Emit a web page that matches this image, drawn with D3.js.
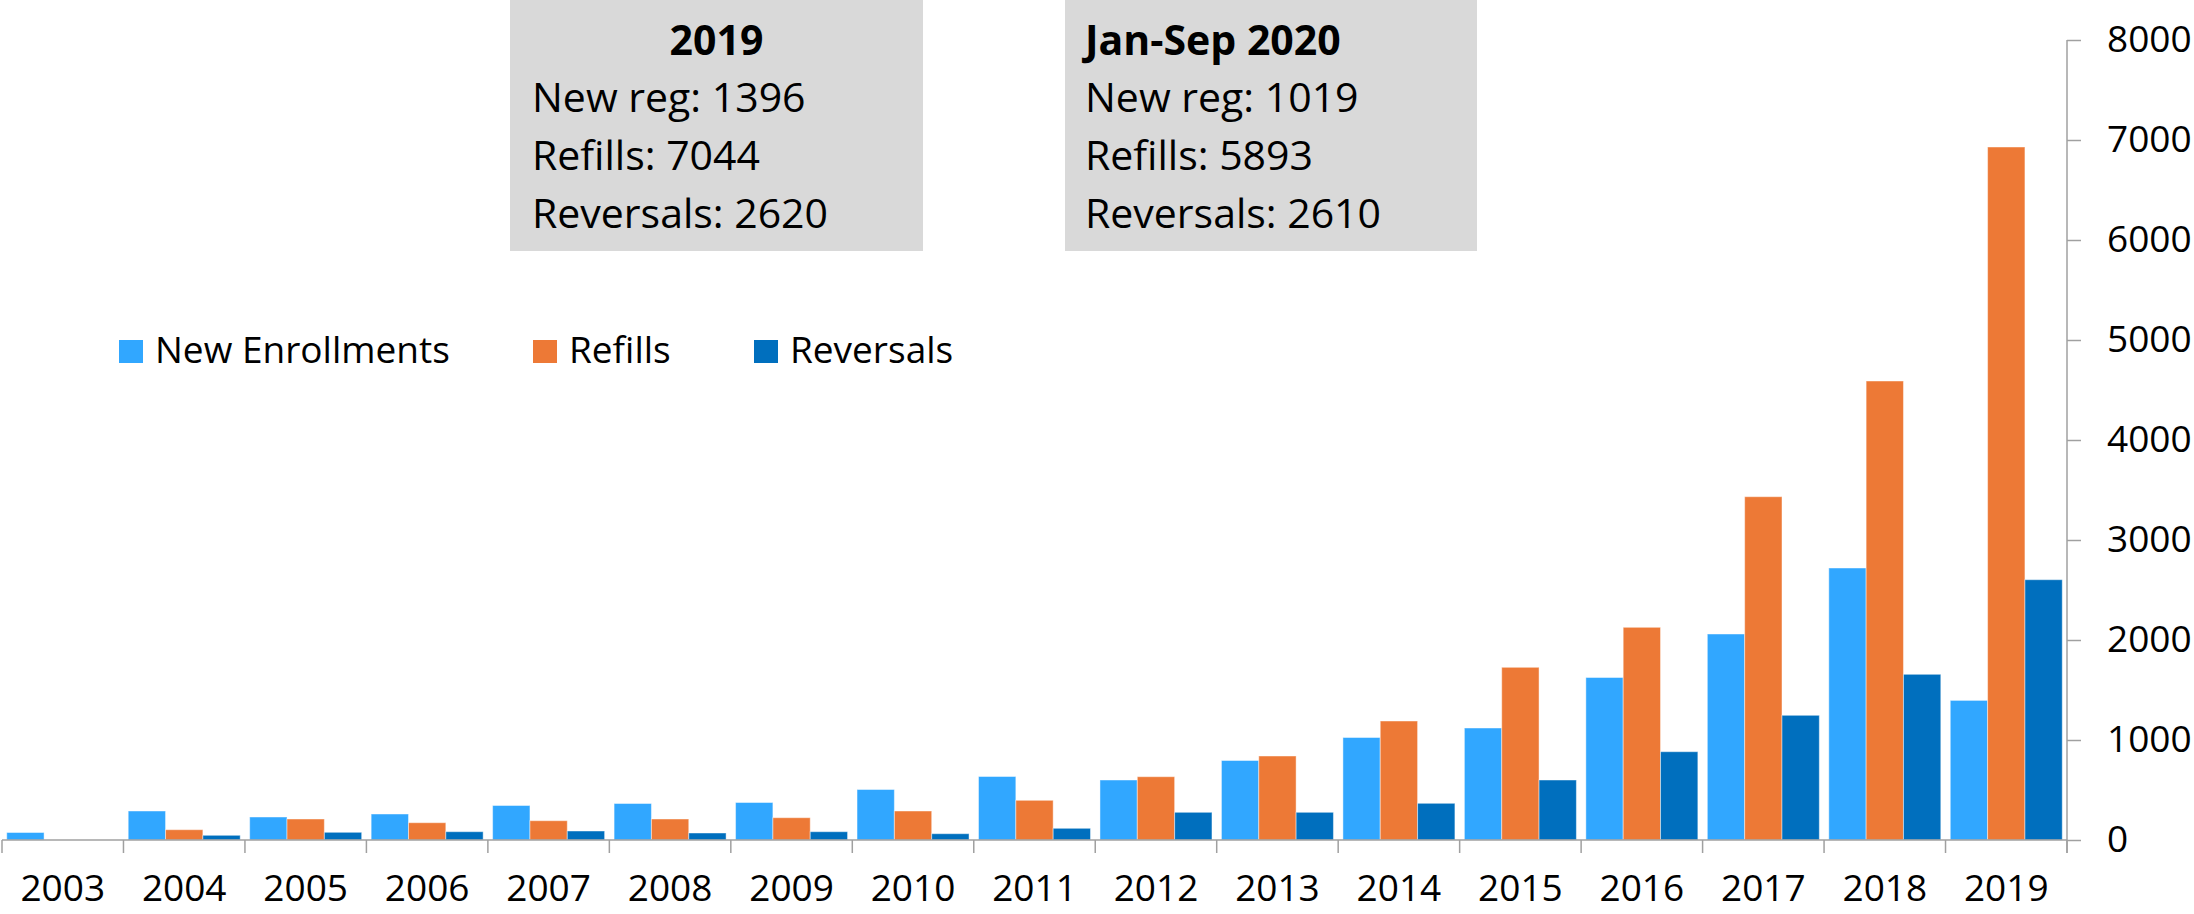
<!DOCTYPE html>
<html lang="en">
  <head>
    <meta charset="utf-8" />
    <title>Enrollments, refills and reversals by year</title>
    <script src="https://cdnjs.cloudflare.com/ajax/libs/d3/7.8.5/d3.min.js"></script>
    <style type="text/css">
      body {
        margin: 0;
        background: #fff;
      }
      text {
        font-family: "Open Sans", Lato, sans-serif;
        fill: #000;
      }
      .axis path,
      .axis line,
      .gridline {
        stroke: #a0a0a0;
        stroke-width: 1.5;
      }
    </style>
  </head>

  <body>
    <div id="chart"></div>

    <script>
      // data
      const years = ["2003", "2004", "2005", "2006", "2007", "2008", "2009", "2010", "2011",
        "2012", "2013", "2014", "2015", "2016", "2017", "2018", "2019"];
      const newEnrollments = [75, 290, 230, 260, 345, 365, 375, 505, 635, 600, 795, 1025, 1120, 1625, 2060, 2720, 1396];
      const refills = [0, 103, 210, 173, 193, 210, 223, 290, 397, 633, 840, 1190, 1727, 2127, 3433, 4590, 6930];
      const reversals = [0, 47, 77, 83, 90, 70, 83, 63, 117, 277, 277, 367, 600, 883, 1247, 1657, 2603];

      const seriesNames = ["New Enrollments", "Refills", "Reversals"];
      const seriesColors = ["#31a7ff", "#ed7936", "#006fbe"];

      const yTicks = [0, 1000, 2000, 3000, 4000, 5000, 6000, 7000, 8000];

      const box2019Title = "2019";
      const box2019Lines = ["New reg: 1396", "Refills: 7044", "Reversals: 2620"];
      const box2020Title = "Jan-Sep 2020";
      const box2020Lines = ["New reg: 1019", "Refills: 5893", "Reversals: 2610"];

      const width = 2194;
      const height = 914;
      const plot = { left: 2, right: 2067, top: 40, bottom: 840 };

      const svg = d3
        .select("#chart")
        .append("svg")
        .attr("width", width)
        .attr("height", height);

      const rows = years.map((yr, i) => ({
        year: yr,
        values: [newEnrollments[i], refills[i], reversals[i]],
      }));

      const x0 = d3
        .scaleBand()
        .domain(years)
        .range([plot.left, plot.right])
        .paddingInner(0.078)
        .paddingOuter(0.039);

      const x1 = d3
        .scaleBand()
        .domain(d3.range(seriesNames.length))
        .range([0, x0.bandwidth()]);

      const y = d3.scaleLinear().domain([0, 8000]).range([plot.bottom, plot.top]);

      // bars
      const groups = svg
        .append("g")
        .selectAll("g")
        .data(rows)
        .join("g")
        .attr("transform", (d) => `translate(${x0(d.year)},0)`);

      groups
        .selectAll("rect")
        .data((d) => d.values.map((v, k) => ({ v, k })))
        .join("rect")
        .attr("x", (d) => x1(d.k))
        .attr("y", (d) => y(d.v))
        .attr("width", x1.bandwidth())
        .attr("height", (d) => y(0) - y(d.v))
        .attr("fill", (d) => seriesColors[d.k])
        .attr("stroke", "rgba(255,255,255,0.45)")
        .attr("stroke-width", 1);

      // x axis: baseline + ticks at the category borders
      const step = x0.step();
      const xStart = x0.range()[0];
      svg
        .append("line")
        .attr("class", "gridline")
        .attr("x1", plot.left)
        .attr("x2", plot.right)
        .attr("y1", y(0))
        .attr("y2", y(0));

      svg
        .append("g")
        .selectAll("line")
        .data(d3.range(years.length + 1))
        .join("line")
        .attr("class", "gridline")
        .attr("x1", (i) => xStart + i * step)
        .attr("x2", (i) => xStart + i * step)
        .attr("y1", y(0))
        .attr("y2", y(0) + 13);

      const xAxis = d3.axisBottom(x0).tickSize(0).tickPadding(35);
      svg
        .append("g")
        .attr("class", "axis x")
        .attr("transform", `translate(0,${y(0)})`)
        .call(xAxis)
        .call((g) => g.select(".domain").remove())
        .selectAll("text")
        .style("font-size", "37px");

      // y axis on the right
      svg
        .append("line")
        .attr("class", "gridline")
        .attr("x1", plot.right)
        .attr("x2", plot.right)
        .attr("y1", y(8000))
        .attr("y2", y(0) + 13);

      const yAxis = d3
        .axisRight(y)
        .tickValues(yTicks)
        .tickFormat(d3.format("d"))
        .tickSize(14)
        .tickPadding(26);
      svg
        .append("g")
        .attr("class", "axis y")
        .attr("transform", `translate(${plot.right},0)`)
        .call(yAxis)
        .call((g) => g.select(".domain").remove())
        .selectAll("text")
        .style("font-size", "37px");

      // legend
      const legendX = [119, 533, 754];
      const legend = svg
        .append("g")
        .selectAll("g")
        .data(seriesNames)
        .join("g")
        .attr("transform", (d, i) => `translate(${legendX[i]},340)`);
      legend
        .append("rect")
        .attr("width", 24)
        .attr("height", 23)
        .attr("fill", (d, i) => seriesColors[i]);
      legend
        .append("text")
        .attr("x", 36)
        .attr("y", 23)
        .style("font-size", "37px")
        .text((d) => d);

      // summary boxes
      function summaryBox(x, w, title, lines, centerTitle, pad) {
        const g = svg.append("g").attr("transform", `translate(${x},0)`);
        g.append("rect").attr("width", w).attr("height", 251).attr("fill", "#d9d9d9");
        g.append("text")
          .attr("x", centerTitle ? w / 2 : pad)
          .attr("y", 55)
          .attr("text-anchor", centerTitle ? "middle" : "start")
          .attr("font-weight", "bold")
          .style("font-size", "41px")
          .text(title);
        g.selectAll("text.line")
          .data(lines)
          .join("text")
          .attr("class", "line")
          .attr("x", pad)
          .attr("y", (d, i) => 112 + i * 58)
          .style("font-size", "41px")
          .text((d) => d);
      }
      summaryBox(510, 413, box2019Title, box2019Lines, true, 22);
      summaryBox(1065, 412, box2020Title, box2020Lines, false, 20);
    </script>
  </body>
</html>
